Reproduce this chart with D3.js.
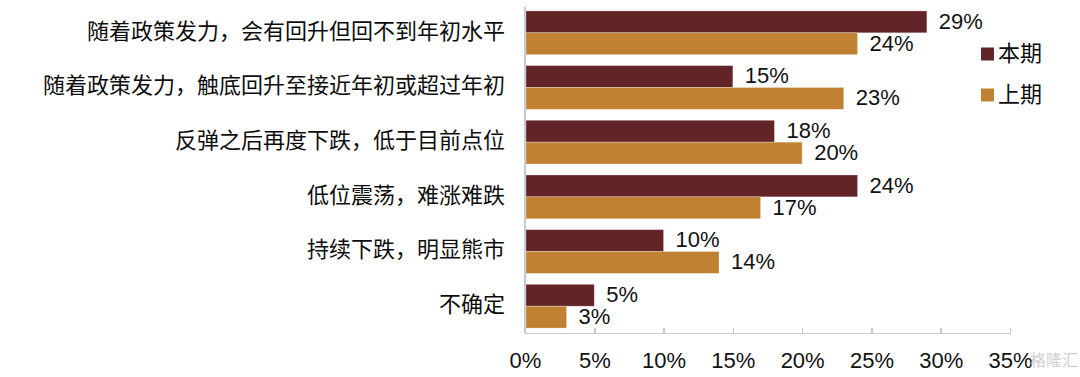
<!DOCTYPE html>
<html>
<head>
<meta charset="utf-8">
<script src="https://cdn.jsdelivr.net/npm/d3@7"></script>
<style>
	body { margin: 0; background: #ffffff; }
	svg { display: block; }
	.numlabel { font-family: "Liberation Sans", Arial, sans-serif; font-size: 22px; fill: #111111; }
	.catlabel { font-family: "Noto Sans CJK SC", sans-serif; font-size: 22px; fill: #0d0d0d; }
	.axis path, .axis line { stroke: #c8c8c8; stroke-width: 1.5px; shape-rendering: crispEdges; }
</style>
</head>
<body>
<div id="chart"></div>
<script>
"use strict";

// Categories, top to bottom
var categories = [
	"随着政策发力，会有回升但回不到年初水平",
	"随着政策发力，触底回升至接近年初或超过年初",
	"反弹之后再度下跌，低于目前点位",
	"低位震荡，难涨难跌",
	"持续下跌，明显熊市",
	"不确定"
];
var seriesNames = ["本期", "上期"];
var currentValues = [29, 15, 18, 24, 10, 5];
var previousValues = [24, 23, 20, 17, 14, 3];
var tickValues = [0, 5, 10, 15, 20, 25, 30, 35];
var colors = ["#622427", "#c08232"];

var width = 1080;
var height = 377;
var plot = {left: 525, right: 1010, top: 6, bottom: 333};

var svg = d3.select("#chart").append("svg")
	.attr("width", width)
	.attr("height", height);

var scaleX = d3.scaleLinear()
	.domain([0, 35])
	.range([plot.left, plot.right]);

var scaleY = d3.scaleBand()
	.domain(categories)
	.range([plot.top, plot.bottom])
	.paddingInner(0.2)
	.paddingOuter(0.09);

var barHeight = scaleY.bandwidth() / 2;

var rows = categories.map(function(c, i) {
	return {name: c, values: [currentValues[i], previousValues[i]]};
});

// axes
var xAxisFunc = d3.axisBottom(scaleX)
	.tickValues(tickValues)
	.tickSizeInner(-5)
	.tickSizeOuter(-5)
	.tickPadding(0)
	.tickFormat(function(d) {
		return d + "%";
	});

var xAxis = svg.append("g")
	.attr("class", "x axis")
	.attr("transform", "translate(0," + plot.bottom + ")")
	.call(xAxisFunc);
xAxis.selectAll("text")
	.attr("class", "numlabel")
	.attr("dy", null)
	.attr("y", 29)
	.attr("dominant-baseline", "middle");
xAxis.attr("font-size", null).attr("font-family", null);

var yAxis = svg.append("g")
	.attr("class", "y axis")
	.attr("transform", "translate(" + plot.left + ",0)")
	.call(d3.axisLeft(scaleY).tickSize(0).tickPadding(20));
yAxis.select("path").attr("d", "M0," + (plot.top + 1) + "V" + plot.bottom);
yAxis.selectAll("text")
	.attr("class", "catlabel")
	.attr("dy", null)
	.attr("dominant-baseline", "middle");
yAxis.attr("font-size", null).attr("font-family", null);

// bars
var groups = svg.selectAll(".row")
	.data(rows)
	.enter().append("g")
	.attr("class", "row")
	.attr("transform", function(d) {
		return "translate(0," + scaleY(d.name) + ")";
	});

groups.selectAll("rect")
	.data(function(d) {
		return d.values;
	})
	.enter().append("rect")
	.attr("x", scaleX(0) + 1)
	.attr("y", function(d, i) {
		return i * barHeight;
	})
	.attr("width", function(d) {
		return scaleX(d) - scaleX(0) - 1;
	})
	.attr("height", barHeight)
	.attr("fill", function(d, i) {
		return colors[i];
	})
	.attr("stroke", "rgba(255,255,255,0.35)")
	.attr("stroke-width", 0.8);

groups.selectAll("text")
	.data(function(d) {
		return d.values;
	})
	.enter().append("text")
	.attr("class", "numlabel")
	.attr("x", function(d) {
		return scaleX(d) + 12;
	})
	.attr("y", function(d, i) {
		return i * barHeight + barHeight / 2 + 1;
	})
	.attr("dominant-baseline", "middle")
	.text(function(d) {
		return d + "%";
	});

// legend
var legend = svg.selectAll(".legend")
	.data(seriesNames)
	.enter().append("g")
	.attr("class", "legend")
	.attr("transform", function(d, i) {
		return "translate(981," + (54 + i * 41) + ")";
	});
legend.append("rect")
	.attr("x", 0)
	.attr("y", -6.5)
	.attr("width", 13)
	.attr("height", 13)
	.attr("fill", function(d, i) {
		return colors[i];
	});
legend.append("text")
	.attr("class", "catlabel")
	.attr("x", 17)
	.attr("y", 1)
	.attr("dominant-baseline", "middle")
	.text(function(d) {
		return d;
	});

// watermark
svg.append("text")
	.attr("x", 1078)
	.attr("y", 362)
	.attr("text-anchor", "end")
	.attr("dominant-baseline", "middle")
	.style("font-family", "Noto Sans CJK SC, sans-serif")
	.style("font-size", "16px")
	.style("fill", "#c8c8c8")
	.style("opacity", 0.85)
	.text("格隆汇");
</script>
</body>
</html>
